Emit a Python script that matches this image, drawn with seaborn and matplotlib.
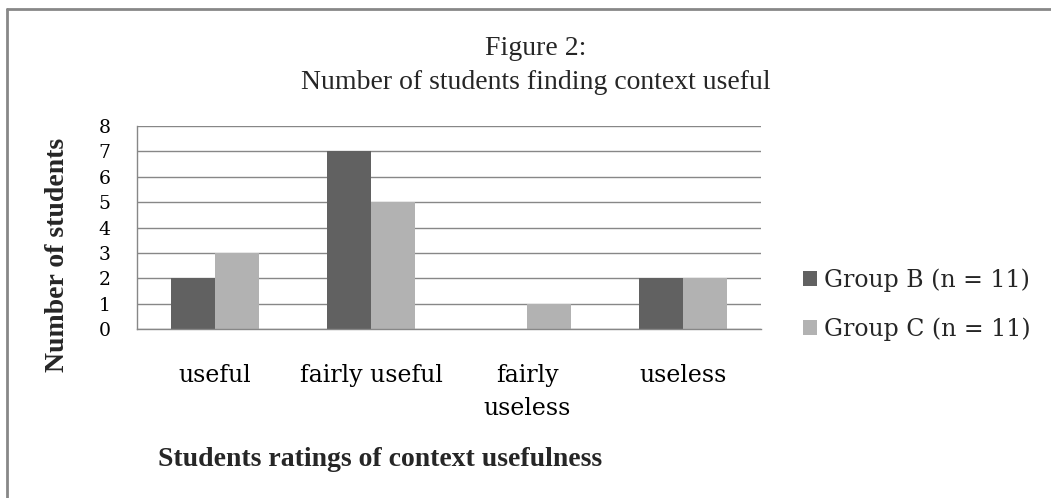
import matplotlib
matplotlib.use("Agg")
import matplotlib.pyplot as plt
import seaborn as sns
import pandas as pd
from matplotlib.lines import Line2D

# ---- data ----
categories = ["useful", "fairly useful", "fairly\nuseless", "useless"]
group_b = [2, 7, 0, 2]
group_c = [3, 5, 1, 2]
series_names = ["Group B (n = 11)", "Group C (n = 11)"]
yticks = [0, 1, 2, 3, 4, 5, 6, 7, 8]

df = pd.DataFrame({
    "category": categories * 2,
    "value": group_b + group_c,
    "series": [series_names[0]] * 4 + [series_names[1]] * 4,
})

sns.set_theme(style="white")
plt.rcParams["font.family"] = ["DejaVu Serif"]

W, H = 1051, 498
fig = plt.figure(figsize=(W / 100, H / 100), dpi=100)
ax = fig.add_axes([137 / W, 1 - 329 / H, (761 - 137) / W, (329 - 126) / H])

sns.barplot(data=df, x="category", y="value", hue="series", order=categories,
            hue_order=series_names, palette=["#616161", "#b2b2b2"],
            width=0.566, saturation=1, linewidth=0, ax=ax)

ax.set_xlim(-0.5, 3.5)
ax.set_ylim(0, 8)
ax.set_yticks(yticks)
ax.set_yticklabels([str(t) for t in yticks], fontsize=13.5, family="DejaVu Serif")
ax.yaxis.grid(True, color="#878787", linewidth=1.0)
ax.set_axisbelow(True)
for s in ["top", "right"]:
    ax.spines[s].set_visible(False)
ax.spines["left"].set_color("#878787")
ax.spines["bottom"].set_color("#878787")
ax.spines["left"].set_linewidth(1.0)
ax.spines["bottom"].set_linewidth(1.0)
ax.tick_params(axis="y", length=9, width=1, color="#878787", pad=10, labelcolor="black")
ax.tick_params(axis="x", length=0, pad=25, labelsize=17, labelcolor="black")
for lbl in ax.get_xticklabels():
    lbl.set_family("DejaVu Serif")
    lbl.set_linespacing(1.55)

ax.set_xlabel("Students ratings of context usefulness", fontsize=20,
              family="Liberation Serif", fontweight="bold", va="center")
ax.xaxis.set_label_coords((380 - 137) / 624, (329 - 459) / 203)
ax.set_ylabel("Number of students", fontsize=20, family="Liberation Serif",
              fontweight="bold", va="center")
ax.yaxis.set_label_coords((58 - 137) / 624, (329 - 255) / 203)

fig.text(536 / W, 1 - 55 / H, "Figure 2:", ha="center", va="baseline",
         fontsize=20, family="Liberation Serif")
fig.text(536 / W, 1 - 89 / H, "Number of students finding context useful",
         ha="center", va="baseline", fontsize=20, family="Liberation Serif")

leg = ax.legend(loc="center left", bbox_to_anchor=(803 / W, 1 - 304.5 / H),
                bbox_transform=fig.transFigure, frameon=False,
                prop={"family": "DejaVu Serif", "size": 17},
                handlelength=0.6, handleheight=0.6, handletextpad=0.3,
                labelspacing=1.1, borderpad=0, borderaxespad=0)

# figure border (top and left visible)
fig.add_artist(Line2D([7 / W, 7 / W], [0, 1 - 9 / H], transform=fig.transFigure,
                      color="#888888", linewidth=2))
fig.add_artist(Line2D([7 / W, 1], [1 - 9 / H, 1 - 9 / H], transform=fig.transFigure,
                      color="#888888", linewidth=2))

fig.savefig("out.png", dpi=100)
